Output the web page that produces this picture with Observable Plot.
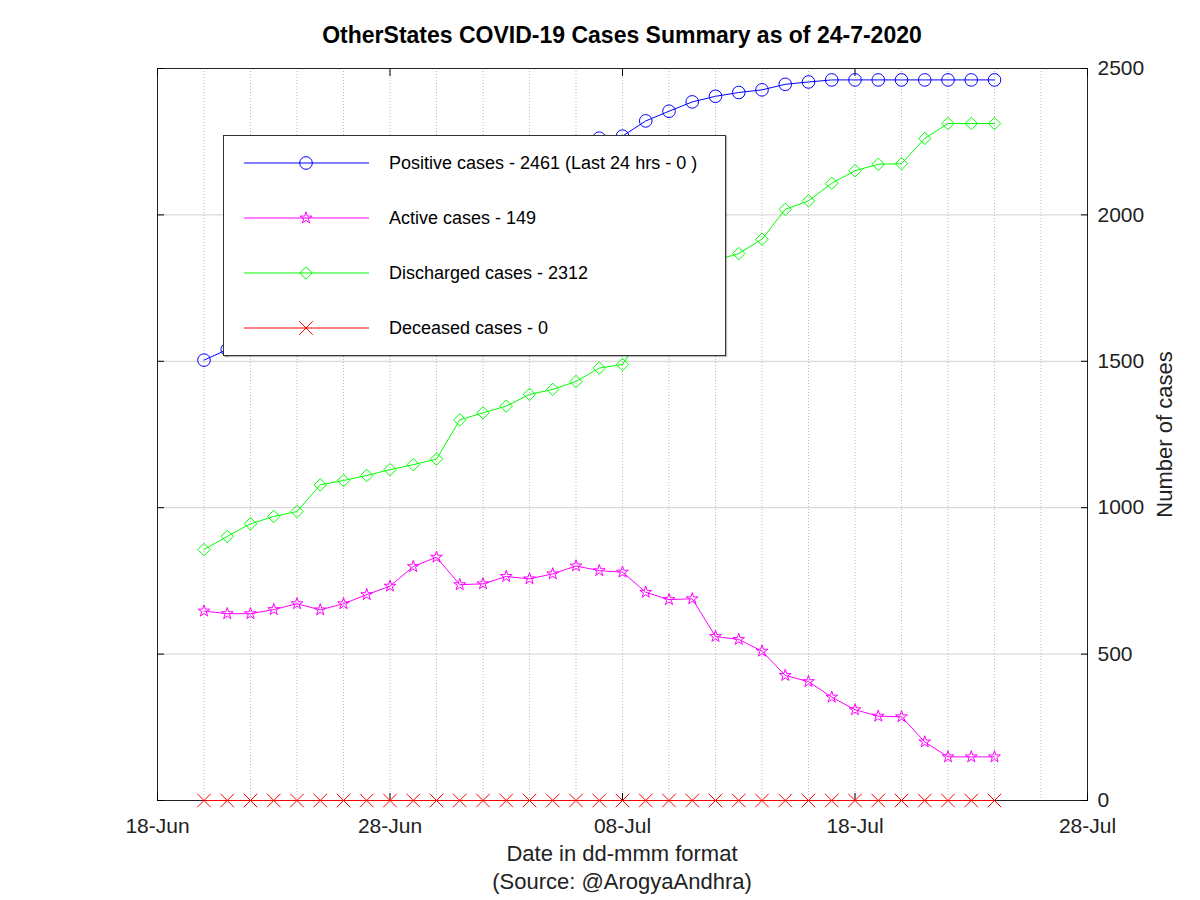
<!DOCTYPE html>
<html>
<head>
<meta charset="utf-8">
<script src="https://cdn.jsdelivr.net/npm/d3@7"></script>
<script src="https://cdn.jsdelivr.net/npm/@observablehq/plot@0.6"></script>
<style>
  body { margin: 0; background: #fff; font-family: "Liberation Sans", Arial, sans-serif; }
  #wrap { position: relative; width: 1200px; height: 900px; background: #fff; }
  #title { position: absolute; left: 157px; width: 930px; top: 21px; text-align: center;
           font-weight: bold; font-size: 23px; line-height: 28px; color: #000; }
  #chart { position: absolute; left: 0; top: 50px; }
  #caption { position: absolute; left: 157px; width: 930px; top: 840px; text-align: center;
             font-size: 22px; line-height: 28px; color: #222; }
  #legend { position: absolute; left: 223px; top: 135px; width: 501px; height: 219px;
            background: #fff; border: 1px solid #333; box-shadow: 1px 1px 1px rgba(0,0,0,0.25); }
</style>
</head>
<body>
<div id="wrap">
  <div id="title">OtherStates COVID-19 Cases Summary as of 24-7-2020</div>
  <div id="chart"></div>
  <div id="legend"></div>
  <div id="caption">Date in dd-mmm format<br>(Source: @ArogyaAndhra)</div>
</div>
<script>
// ---- Data ----
const dates = [
  "2020-06-20","2020-06-21","2020-06-22","2020-06-23","2020-06-24","2020-06-25","2020-06-26",
  "2020-06-27","2020-06-28","2020-06-29","2020-06-30","2020-07-01","2020-07-02","2020-07-03",
  "2020-07-04","2020-07-05","2020-07-06","2020-07-07","2020-07-08","2020-07-09","2020-07-10",
  "2020-07-11","2020-07-12","2020-07-13","2020-07-14","2020-07-15","2020-07-16","2020-07-17",
  "2020-07-18","2020-07-19","2020-07-20","2020-07-21","2020-07-22","2020-07-23","2020-07-24"
];
const positive = [1504,1540,1583,1622,1659,1729,1765,1813,1862,1946,1997,
  2037,2064,2112,2144,2178,2232,2262,2269,2321,2354,2386,2405,2418,2427,2446,2454,2461,
  2461,2461,2461,2461,2461,2461,2461];
const active = [647,638,638,652,672,651,672,703,732,799,831,
  737,740,765,757,774,801,785,780,711,686,689,560,550,510,427,406,353,
  310,288,286,200,149,149,149];
const discharged = [857,902,945,970,987,1078,1093,1110,1130,1147,1166,
  1300,1324,1347,1387,1404,1431,1477,1489,1610,1668,1697,1845,1868,1917,2019,2048,2108,
  2151,2173,2175,2261,2312,2312,2312];
const deceased = [0,0,0,0,0,0,0,0,0,0,0,0,0,0,0,0,0,0,0,0,0,0,0,0,0,0,0,0,0,0,0,0,0,0,0];

const xTickDates = ["2020-06-18","2020-06-28","2020-07-08","2020-07-18","2020-07-28"];
const yTicks = [0, 500, 1000, 1500, 2000, 2500];
const yLabel = "Number of cases";

const seriesNames = [
  "Positive cases - 2461 (Last 24 hrs - 0 )",
  "Active cases - 149",
  "Discharged cases - 2312",
  "Deceased cases - 0"
];
const seriesColors = ["#0000ff", "#ff00ff", "#00ff00", "#ff0000"];
const seriesSymbols = ["circle", "star", "diamond2", "times"];
const seriesR = [6.3, 3.7, 5.6, 6.2];

// ---- Build table ----
const parse = d3.utcParse("%Y-%m-%d");
const seriesValues = [positive, active, discharged, deceased];
const series = seriesValues.map((vals, i) =>
  dates.map((d, j) => ({date: parse(d), value: vals[j], name: seriesNames[i]})));

const xDomain = [parse(xTickDates[0]), parse(xTickDates[xTickDates.length - 1])];
const xTicks = xTickDates.map(parse);
const gridDates = d3.utcDay.range(xDomain[0], d3.utcDay.offset(xDomain[1], 1), 2);

const marks = [
  Plot.gridY(yTicks, {stroke: "#d0d0d0", strokeOpacity: 1, strokeWidth: 1}),
  Plot.gridX(gridDates, {stroke: "#b8b8b8", strokeOpacity: 1, strokeDasharray: "1,2", strokeWidth: 1}),
  Plot.frame({stroke: "#222", strokeWidth: 1}),
  // inward ticks on all four sides
  Plot.axisX(xTicks, {anchor: "bottom", tickSize: 7, dy: -7, text: null, label: null, stroke: "#000"}),
  Plot.axisX(xTicks, {anchor: "top", tickSize: 7, dy: 7, text: null, label: null, stroke: "#000"}),
  Plot.axisY(yTicks, {anchor: "left", tickSize: 7, dx: 7, text: null, label: null, stroke: "#000"}),
  Plot.axisY(yTicks, {anchor: "right", tickSize: 7, dx: -7, text: null, label: null, stroke: "#000"}),
  // tick labels
  Plot.axisX(xTicks, {anchor: "bottom", tickSize: 0, tickPadding: 18, tickFormat: d3.utcFormat("%d-%b"),
    fontSize: 21, label: null, fill: "#222"}),
  Plot.axisY(yTicks, {anchor: "right", tickSize: 0, tickPadding: 10, fontSize: 21,
    tickFormat: d3.format("d"), label: null, fill: "#222"}),
  // y axis title
  Plot.text([yLabel], {frameAnchor: "right", textAnchor: "middle", lineAnchor: "middle",
    text: d => d, rotate: -90, dx: 77, fontSize: 22, fill: "#222"})
];

series.forEach((data, i) => {
  marks.push(Plot.line(data, {x: "date", y: "value", stroke: seriesColors[i], strokeWidth: 1}));
  marks.push(Plot.dot(data, {x: "date", y: "value", stroke: seriesColors[i], fill: "none",
    symbol: () => seriesSymbols[i], r: seriesR[i], strokeWidth: 1}));
});

const chart = Plot.plot({
  width: 1200,
  height: 790,
  marginTop: 18,
  marginBottom: 40,
  marginLeft: 157,
  marginRight: 113,
  style: {fontFamily: "Liberation Sans, Arial, sans-serif", fontSize: "21px", background: "#fff", overflow: "visible"},
  x: {type: "utc", domain: xDomain},
  y: {domain: [0, 2500]},
  symbol: {type: "identity"},
  marks
});
document.getElementById("chart").appendChild(chart);

// ---- Legend ----
const lw = 501, lh = 219;
const legend = d3.select("#legend").append("svg").attr("width", lw).attr("height", lh);
const rowY = [27, 82, 137, 192];
const symMap = {circle: d3.symbolCircle, star: d3.symbolStar, diamond2: d3.symbolDiamond2, times: d3.symbolTimes};
seriesNames.forEach((name, i) => {
  const g = legend.append("g").attr("transform", `translate(0,${rowY[i]})`);
  g.append("line").attr("x1", 20).attr("x2", 145).attr("y1", 0).attr("y2", 0)
    .attr("stroke", seriesColors[i]).attr("stroke-width", 1);
  g.append("path").attr("transform", "translate(82,0)")
    .attr("d", d3.symbol(symMap[seriesSymbols[i]], Math.PI * seriesR[i] * seriesR[i])())
    .attr("fill", "none").attr("stroke", seriesColors[i]).attr("stroke-width", 1);
  g.append("text").attr("x", 165).attr("y", 0).attr("dy", "0.35em")
    .attr("font-size", 18).attr("font-family", "Liberation Sans, Arial, sans-serif")
    .attr("fill", "#000").text(name);
});
</script>
</body>
</html>
